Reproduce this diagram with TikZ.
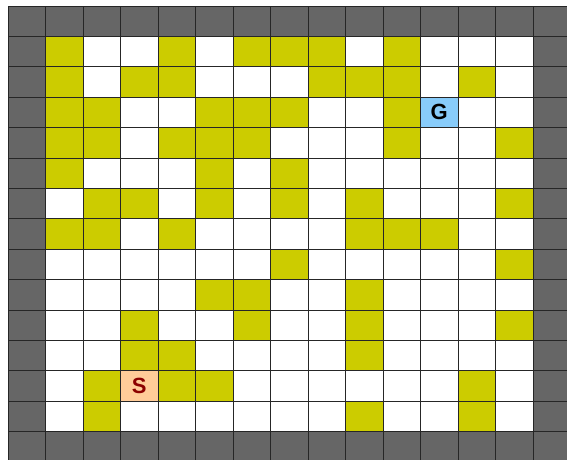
\documentclass[tikz,border=0pt]{standalone}
\usepackage{fontspec}
\setmainfont{Liberation Sans}
\definecolor{wallgray}{HTML}{666666}
\definecolor{obstyellow}{HTML}{CCCC00}
\definecolor{goalblue}{HTML}{88CCFA}
\definecolor{startpeach}{HTML}{FFCC99}
\definecolor{startred}{HTML}{8B0000}
\begin{document}
\begin{tikzpicture}[x=1pt,y=-1pt,
  wallcell/.style={fill=wallgray},
  obstcell/.style={fill=obstyellow},
  gridline/.style={draw=black!85,line width=1pt},
  specialcell/.style={minimum width=37.5pt,minimum height=30.4pt,inner sep=0pt,
    font=\fontsize{22}{22}\selectfont\bfseries},
  goalcell/.style={specialcell,fill=goalblue,text=black},
  startcell/.style={specialcell,fill=startpeach,text=startred}]
\useasboundingbox (0,0) rectangle (567,459);
\clip (0,0) rectangle (567,459);
\fill[white] (0,0) rectangle (567,459);
\def\cw{37.5}
\def\ch{30.4}
\def\ox{8}
\def\oy{6}
% walls
\foreach \c in {0,...,14} {
  \fill[wallcell] (\ox+\c*\cw, \oy) rectangle ++(\cw,\ch);
  \fill[wallcell] (\ox+\c*\cw, \oy+14*\ch) rectangle ++(\cw,\ch);
  \fill[wallcell] (\ox, \oy+\c*\ch) rectangle ++(\cw,\ch);
  \fill[wallcell] (\ox+14*\cw, \oy+\c*\ch) rectangle ++(\cw,\ch);
}
% obstacles
\foreach \c/\r in {1/1,4/1,6/1,7/1,8/1,10/1,
  1/2,3/2,4/2,8/2,9/2,10/2,12/2,
  1/3,2/3,5/3,6/3,7/3,10/3,
  1/4,2/4,4/4,5/4,6/4,10/4,13/4,
  1/5,5/5,7/5,
  2/6,3/6,5/6,7/6,9/6,13/6,
  1/7,2/7,4/7,9/7,10/7,11/7,
  7/8,13/8,
  5/9,6/9,9/9,
  3/10,6/10,9/10,13/10,
  3/11,4/11,9/11,
  2/12,4/12,5/12,12/12,
  2/13,9/13,12/13} {
  \fill[obstcell] (\ox+\c*\cw, \oy+\r*\ch) rectangle ++(\cw,\ch);
}
% goal and start
\node[goalcell] (G) at (\ox+11.5*\cw, \oy+3.5*\ch) {G};
\node[startcell] (S) at (\ox+3.5*\cw, \oy+12.5*\ch) {S};
% grid
\foreach \i in {0,...,15} {
  \draw[gridline] (\ox+\i*\cw, \oy) -- ++(0, 15*\ch);
  \draw[gridline] (\ox, \oy+\i*\ch) -- ++(15*\cw, 0);
}
\end{tikzpicture}
\end{document}
